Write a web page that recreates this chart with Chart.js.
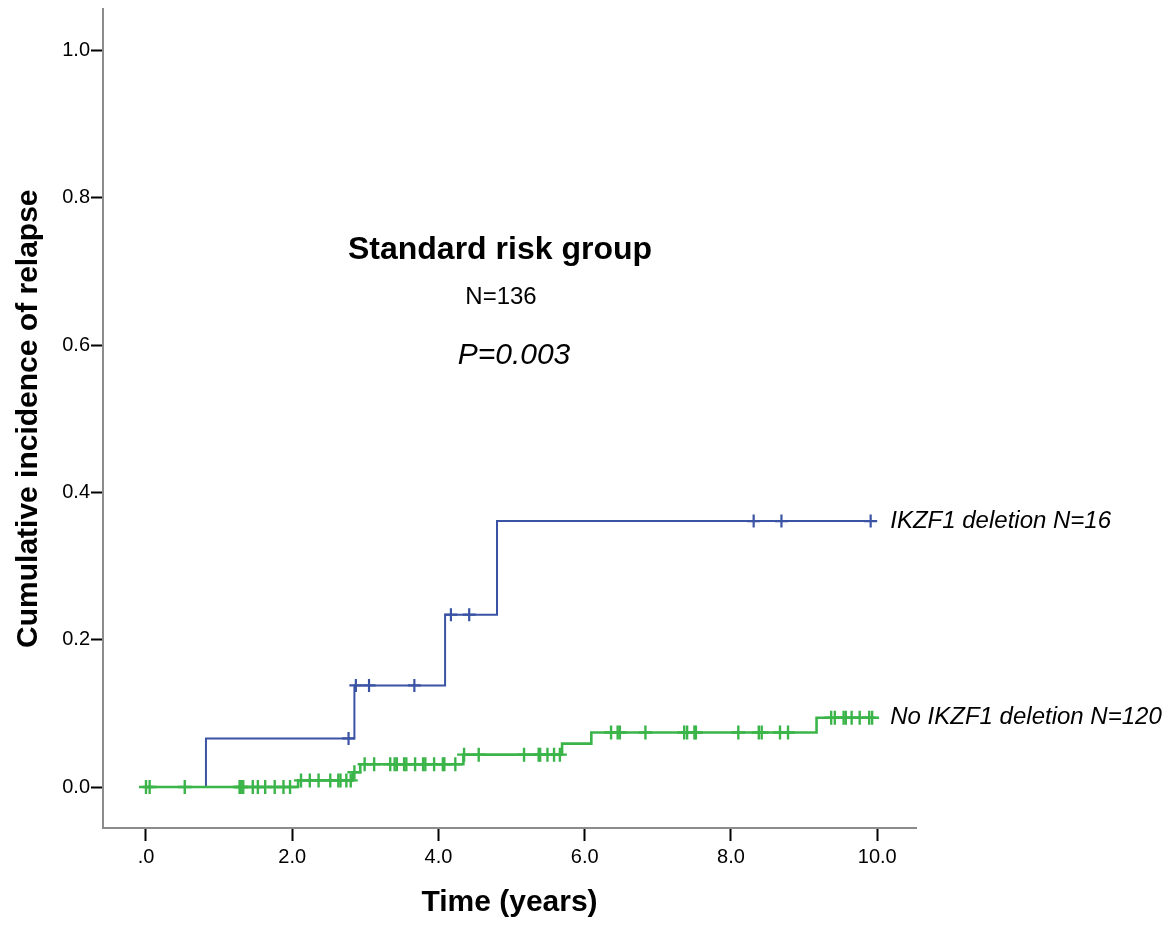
<!DOCTYPE html>
<html>
<head>
<meta charset="utf-8">
<title>Cumulative incidence of relapse</title>
<script src="https://cdn.jsdelivr.net/npm/chart.js@4"></script>
<style>
  html, body { margin: 0; padding: 0; background: #fff; }
  canvas { display: block; }
</style>
</head>
<body>
<canvas id="chart" width="1171" height="926"></canvas>
<script>
// IKZF1 deletion: time each step starts (years) and the incidence reached there
const delTimes = [0, 0.82, 2.85, 4.09, 4.80];
const delLevels = [0, 0.066, 0.138, 0.234, 0.361];
const delEnd = 9.91;
const delCensored = [2.77, 2.87, 3.05, 3.67, 4.17, 4.42, 8.31, 8.69, 9.91];

// no IKZF1 deletion
const noDelTimes = [0, 2.08, 2.83, 2.93, 4.34, 5.69, 6.09, 9.17];
const noDelLevels = [0, 0.009, 0.020, 0.031, 0.044, 0.059, 0.074, 0.094];
const noDelEnd = 9.93;
const noDelCensored = [
  0.0, 0.05, 0.53, 1.28, 1.30, 1.33, 1.46, 1.53, 1.63, 1.76, 1.88, 1.97,
  2.12, 2.24, 2.36, 2.52, 2.63, 2.66, 2.74, 2.80,
  2.85,
  2.99, 3.12, 3.34, 3.40, 3.43, 3.53, 3.56, 3.68, 3.79, 3.82, 3.94, 4.06, 4.08, 4.23,
  4.35, 4.55, 5.17, 5.37, 5.39, 5.49, 5.58, 5.66,
  6.36, 6.45, 6.48, 6.83, 7.36, 7.40, 7.50, 7.52, 8.10, 8.38, 8.42, 8.67, 8.78,
  9.37, 9.42, 9.54, 9.57, 9.65, 9.76, 9.89, 9.93
];

const xTicks = [0, 2, 4, 6, 8, 10];
const yTicks = [0, 0.2, 0.4, 0.6, 0.8, 1.0];

const BLUE = '#3a53a4';
const GREEN = '#3bb54a';
const FONT = "'Liberation Sans', Arial, sans-serif";

// step curve points, held flat to the last follow-up
function stepPoints(times, levels, end) {
  const pts = times.map((t, i) => ({ x: t, y: levels[i] }));
  pts.push({ x: end, y: levels[levels.length - 1] });
  return pts;
}

// censored cases sit on the curve at the level current at their time
function censorPoints(times, levels, censored) {
  return censored.map(c => {
    let lvl = levels[0];
    times.forEach((t, i) => { if (t <= c) lvl = levels[i]; });
    return { x: c, y: lvl };
  });
}

const labels = {
  id: 'labels',
  afterDraw(chart) {
    const { ctx, scales: { x, y } } = chart;
    ctx.save();
    ctx.fillStyle = '#000';
    ctx.textBaseline = 'middle';
    ctx.textAlign = 'center';
    ctx.font = 'bold 32px ' + FONT;
    ctx.fillText('Standard risk group', 500, 250);
    ctx.font = '24px ' + FONT;
    ctx.fillText('N=136', 501, 297);
    ctx.font = 'italic 30px ' + FONT;
    ctx.fillText('P=0.003', 514, 356);

    // group names at the end of each curve
    ctx.textAlign = 'left';
    ctx.font = 'italic 24px ' + FONT;
    const lx = x.getPixelForValue(10) + 13;
    ctx.fillText('IKZF1 deletion N=16', lx, y.getPixelForValue(delLevels[delLevels.length - 1]));
    ctx.fillText('No IKZF1 deletion N=120', lx, y.getPixelForValue(noDelLevels[noDelLevels.length - 1]));
    ctx.restore();
  }
};

new Chart(document.getElementById('chart'), {
  type: 'line',
  data: {
    datasets: [
      {
        data: censorPoints(noDelTimes, noDelLevels, noDelCensored),
        showLine: false,
        pointStyle: 'cross',
        pointRadius: 7,
        pointBorderWidth: 2.4,
        pointBorderColor: GREEN
      },
      {
        data: stepPoints(noDelTimes, noDelLevels, noDelEnd),
        stepped: 'before',
        borderColor: GREEN,
        borderWidth: 2.6,
        pointRadius: 0
      },
      {
        data: censorPoints(delTimes, delLevels, delCensored),
        showLine: false,
        pointStyle: 'cross',
        pointRadius: 6.5,
        pointBorderWidth: 2.2,
        pointBorderColor: BLUE
      },
      {
        data: stepPoints(delTimes, delLevels, delEnd),
        stepped: 'before',
        borderColor: BLUE,
        borderWidth: 2,
        pointRadius: 0
      }
    ]
  },
  options: {
    responsive: false,
    animation: false,
    events: [],
    layout: { padding: { top: 9, right: 255, left: 0, bottom: 0 } },
    plugins: {
      legend: { display: false },
      tooltip: { enabled: false }
    },
    scales: {
      x: {
        type: 'linear',
        min: -0.588,
        max: 10.53,
        afterBuildTicks: s => { s.ticks = xTicks.map(v => ({ value: v })); },
        afterFit: s => { s.height = 98; },
        ticks: {
          color: '#000',
          padding: 4,
          font: { size: 20, family: FONT },
          callback: v => (v === 0 ? '.0' : v.toFixed(1))
        },
        grid: { drawOnChartArea: false, color: '#000', tickColor: '#000', tickLength: 13, tickWidth: 2 },
        border: { color: '#8c8c8c', width: 2 },
        title: {
          display: true,
          text: 'Time (years)',
          color: '#000',
          font: { size: 30, weight: 'bold', family: FONT },
          padding: { top: 0, bottom: 5 }
        }
      },
      y: {
        min: -0.0556,
        max: 1.0556,
        afterBuildTicks: s => { s.ticks = yTicks.map(v => ({ value: v })); },
        afterFit: s => { s.width = 103; },
        ticks: {
          color: '#000',
          padding: 1,
          font: { size: 20, family: FONT, lineHeight: 0.8 },
          callback: v => v.toFixed(1)
        },
        grid: { drawOnChartArea: false, color: '#000', tickColor: '#000', tickLength: 12, tickWidth: 2 },
        border: { color: '#8c8c8c', width: 2 },
        title: {
          display: true,
          text: 'Cumulative incidence of relapse',
          color: '#000',
          font: { size: 30, weight: 'bold', family: FONT },
          padding: { top: 11, bottom: 0 }
        }
      }
    }
  },
  plugins: [labels]
});
</script>
</body>
</html>
